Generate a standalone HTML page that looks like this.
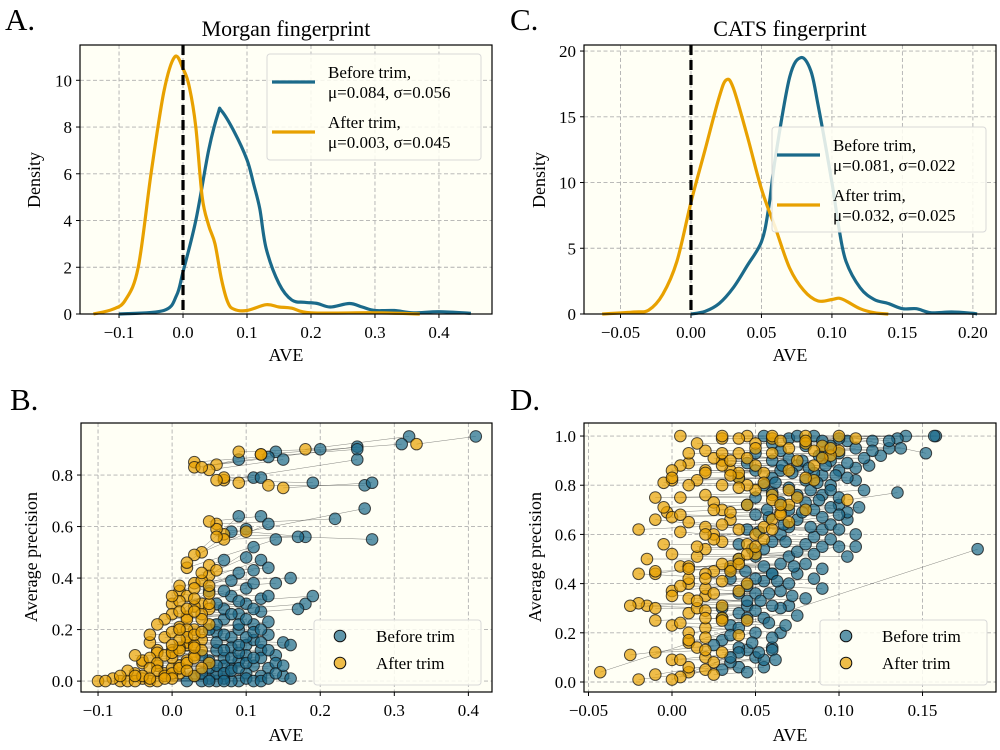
<!DOCTYPE html>
<html><head><meta charset="utf-8">
<style>
html,body{margin:0;padding:0;background:#fff;}
svg{display:block;font-family:"Liberation Serif","DejaVu Serif",serif;}
</style></head>
<body>
<svg id="fig" width="1000" height="750" viewBox="0 0 1000 750" xmlns="http://www.w3.org/2000/svg"></svg>
<script>
// ---- Panel A (Morgan) density data
const aBeforeX=[-0.1,-0.03,-0.01,0,0.02,0.04,0.055,0.06,0.08,0.1,0.11,0.12,0.13,0.15,0.17,0.19,0.21,0.23,0.26,0.28,0.3,0.33,0.36,0.4,0.45];
const aBeforeY=[0,0.15,0.8,1.8,4,7,8.6,8.7,7.8,6.6,5.6,4.5,2.8,1.3,0.6,0.5,0.45,0.3,0.45,0.3,0.15,0.15,0.05,0.1,0.03];
const aAfterX=[-0.14,-0.11,-0.09,-0.07,-0.05,-0.03,-0.013,0,0.01,0.02,0.03,0.04,0.05,0.06,0.07,0.08,0.1,0.13,0.15,0.17,0.2,0.3,0.37];
const aAfterY=[0,0.2,0.6,2,6,9.5,11,10.5,9.7,8,5,3.8,3,1.5,0.5,0.2,0.15,0.4,0.3,0.25,0.05,0.05,0];
const aXTicks=[-0.1,0,0.1,0.2,0.3,0.4];
const aXTickLabels=["−0.1","0.0","0.1","0.2","0.3","0.4"];
const aYTicks=[0,2,4,6,8,10];
// ---- Panel C (CATS) density data
const cBeforeX=[0,0.01,0.02,0.03,0.04,0.05,0.055,0.06,0.07,0.078,0.085,0.09,0.1,0.105,0.11,0.12,0.13,0.14,0.15,0.16,0.17,0.185,0.2,0.203];
const cBeforeY=[0,0.2,0.8,2,3.7,5.5,8,12,18,19.5,18.5,16,10,6.5,4,2,1.1,0.8,0.4,0.4,0.1,0.15,0.05,0];
const cAfterX=[-0.063,-0.04,-0.03,-0.02,-0.01,0,0.01,0.02,0.025,0.03,0.04,0.05,0.06,0.07,0.08,0.09,0.1,0.105,0.11,0.12,0.13,0.14];
const cAfterY=[0,0.15,0.3,1.5,4,8.5,12.5,16.5,17.8,17.2,13.5,9.5,6.5,3.5,1.8,1.0,1.1,1.2,1.0,0.4,0.1,0];
const cXTicks=[-0.05,0,0.05,0.1,0.15,0.2];
const cXTickLabels=["−0.05","0.00","0.05","0.10","0.15","0.20"];
const cYTicks=[0,5,10,15,20];
// ---- Panel B scatter: [beforeAVE, beforeAP, afterAVE, afterAP]
const bPairs=[
[0.41,0.95,0.33,0.92],[0.32,0.95,0.18,0.90],[0.31,0.92,0.12,0.88],[0.25,0.91,0.06,0.84],[0.25,0.90,0.03,0.85],
[0.25,0.86,0.07,0.78],[0.20,0.90,0.09,0.89],[0.14,0.89,0.12,0.88],[0.15,0.86,0.05,0.82],[0.13,0.87,0.03,0.83],
[0.09,0.86,0.04,0.83],[0.11,0.79,0.07,0.79],[0.12,0.79,0.09,0.77],[0.26,0.76,0.13,0.76],[0.27,0.77,0.15,0.75],
[0.19,0.77,0.06,0.78],[0.26,0.67,0.10,0.58],[0.22,0.63,0.06,0.61],[0.27,0.55,0.07,0.57],[0.18,0.56,0.06,0.59],
[0.17,0.56,0.07,0.55],[0.12,0.64,0.05,0.62],[0.13,0.61,0.04,0.50],[0.14,0.55,0.02,0.44],[0.09,0.64,0.03,0.49],
[0.10,0.59,0.06,0.56],[0.08,0.58,0.02,0.46],[0.11,0.52,0.05,0.41],[0.12,0.47,0.03,0.38],[0.16,0.40,0.04,0.39],
[0.11,0.43,0.01,0.35],[0.09,0.42,0.02,0.33],[0.10,0.36,0.00,0.30],[0.18,0.30,0.00,0.26],[0.19,0.33,0.04,0.30],
[0.17,0.28,0.02,0.25],[0.12,0.32,0.05,0.28],[0.08,0.33,0.01,0.31],[0.07,0.47,0.05,0.45],[0.10,0.48,0.06,0.43],
[0.13,0.44,0.04,0.42],[0.14,0.38,0.03,0.36],[0.08,0.39,0.01,0.37],[0.07,0.35,0.00,0.33],[0.10,0.30,0.03,0.29],
[0.12,0.27,0.02,0.24],[0.09,0.26,-0.01,0.24],[0.07,0.24,-0.02,0.22],[0.11,0.22,0.01,0.21],[0.13,0.23,0.03,0.20],
[0.15,0.15,0.04,0.16],[0.16,0.14,0.02,0.14],[0.14,0.10,0.00,0.12],[0.12,0.12,-0.02,0.12],[0.10,0.14,-0.03,0.15],
[0.08,0.17,-0.01,0.17],[0.09,0.20,0.00,0.19],[0.06,0.19,-0.03,0.18],[0.11,0.06,-0.04,0.07],[0.13,0.05,-0.02,0.06],
[0.15,0.02,0.01,0.03],[0.16,0.01,0.03,0.02],[0.12,0.02,-0.05,0.03],[0.10,0.03,-0.06,0.04],[0.08,0.05,-0.04,0.08],
[0.07,0.09,-0.05,0.10],[0.06,0.12,-0.02,0.11],[0.05,0.08,-0.03,0.09],[0.09,0.00,-0.10,0.00],[0.08,0.00,-0.07,0.00],
[0.07,0.01,-0.08,0.01],[0.06,0.00,-0.06,0.00],[0.05,0.01,-0.04,0.01],[0.10,0.01,-0.03,0.00],[0.11,0.00,-0.02,0.00],
[0.04,0.00,-0.05,0.00],[0.06,0.03,-0.01,0.03],[0.05,0.05,0.00,0.05],[0.07,0.06,0.01,0.06],[0.09,0.08,0.02,0.08],
[0.12,0.09,0.03,0.10],[0.14,0.07,0.05,0.07],[0.06,0.15,0.02,0.15],[0.08,0.13,0.01,0.13],[0.10,0.10,0.00,0.09],
[0.04,0.10,-0.02,0.07],[0.05,0.20,0.02,0.20],[0.07,0.28,0.04,0.26],[0.09,0.22,0.05,0.22],[0.06,0.30,0.03,0.32],
[0.05,0.35,0.01,0.27],[0.03,0.02,-0.07,0.02],[0.02,0.00,-0.09,0.00],[0.11,0.16,0.03,0.14],[0.13,0.18,0.04,0.12],
[0.07,0.12,-0.01,0.10],[0.08,0.09,0.00,0.11],[0.09,0.11,0.01,0.12],[0.10,0.17,0.02,0.17],[0.11,0.19,0.03,0.18],
[0.12,0.15,0.01,0.16],[0.06,0.06,-0.03,0.05],[0.07,0.03,-0.02,0.04],[0.08,0.04,-0.01,0.02],[0.09,0.05,0.00,0.03],
[0.10,0.07,0.01,0.05],[0.11,0.09,0.02,0.07],[0.13,0.12,0.03,0.09],[0.12,0.20,0.04,0.19],[0.10,0.24,0.04,0.24],
[0.08,0.26,0.02,0.28],[0.09,0.31,0.03,0.27],[0.11,0.28,0.05,0.30],[0.13,0.33,0.05,0.34],[0.11,0.38,0.05,0.37],
[0.04,0.03,-0.04,0.02],[0.05,0.00,-0.03,0.01],[0.07,0.00,-0.05,0.02],[0.12,0.00,0.00,0.01],[0.13,0.01,-0.01,0.01],
[0.14,0.03,0.02,0.04],[0.15,0.06,0.04,0.05],[0.09,0.14,0.03,0.13],[0.07,0.18,0.00,0.14],[0.06,0.22,0.01,0.20]
];
// ---- Panel D scatter: [beforeAVE, beforeAP, afterAVE, afterAP]
const dPairs=[
[0.183,0.54,-0.043,0.04],[0.158,1.00,0.045,1.00],[0.157,1.00,0.03,0.99],[0.152,0.93,0.11,0.99],[0.14,1.00,0.08,1.00],
[0.135,0.99,0.06,0.99],[0.137,0.95,0.09,0.96],[0.13,0.95,0.10,0.94],[0.135,0.77,0.105,0.74],[0.12,0.98,0.08,0.97],
[0.125,0.92,0.095,0.92],[0.118,0.88,0.07,0.86],[0.11,0.82,0.085,0.82],[0.115,0.78,0.06,0.76],[0.105,0.98,0.05,0.97],
[0.10,0.93,0.04,0.93],[0.095,0.90,0.03,0.90],[0.10,0.86,0.02,0.86],[0.09,0.84,0.00,0.82],[0.095,0.80,-0.005,0.81],
[0.09,0.76,-0.01,0.75],[0.10,0.72,-0.003,0.69],[0.105,0.66,-0.02,0.62],[0.11,0.60,0.01,0.65],[0.11,0.55,0.005,0.61],
[0.105,0.51,0.00,0.52],[0.10,0.55,-0.01,0.44],[0.09,0.46,0.005,0.47],[0.09,0.38,0.01,0.40],[0.085,0.42,0.00,0.37],
[0.08,0.34,-0.015,0.31],[0.07,0.31,-0.02,0.32],[0.065,0.30,-0.01,0.30],[0.075,0.27,0.01,0.28],[0.065,0.20,0.00,0.23],
[0.06,0.14,-0.01,0.12],[0.06,0.13,0.00,0.09],[0.055,0.06,0.01,0.04],[0.05,0.10,0.005,0.02],[0.045,0.13,0.00,0.01],
[0.04,0.06,-0.02,0.01],[0.035,0.08,-0.01,0.03],[0.04,0.14,0.02,0.05],[0.03,0.17,0.01,0.16],[0.035,0.23,0.02,0.22],
[0.04,0.28,0.03,0.26],[0.045,0.31,0.015,0.30],[0.05,0.36,0.02,0.35],[0.055,0.41,0.03,0.41],[0.06,0.44,0.025,0.45],
[0.065,0.48,0.035,0.47],[0.07,0.51,0.04,0.50],[0.075,0.53,0.05,0.52],[0.08,0.56,0.045,0.56],[0.085,0.59,0.05,0.60],
[0.09,0.62,0.055,0.63],[0.095,0.64,0.06,0.66],[0.09,0.67,0.065,0.69],[0.085,0.70,0.07,0.72],[0.08,0.73,0.06,0.74],
[0.075,0.76,0.05,0.78],[0.07,0.79,0.045,0.80],[0.08,0.82,0.04,0.83],[0.085,0.85,0.035,0.86],[0.075,0.88,0.03,0.88],
[0.07,0.91,0.025,0.91],[0.065,0.94,0.02,0.94],[0.06,0.97,0.015,0.97],[0.055,1.00,0.005,1.00],[0.07,0.99,0.04,0.99],
[0.08,0.96,0.05,0.95],[0.09,0.93,0.06,0.93],[0.095,0.96,0.07,0.95],[0.10,0.99,0.08,0.98],[0.11,0.95,0.085,0.94],
[0.06,0.90,0.01,0.89],[0.065,0.86,0.02,0.85],[0.06,0.83,0.015,0.82],[0.055,0.80,0.01,0.80],[0.06,0.77,0.02,0.76],
[0.065,0.73,0.025,0.73],[0.07,0.70,0.03,0.70],[0.075,0.66,0.035,0.66],[0.07,0.63,0.02,0.63],[0.065,0.60,0.025,0.60],
[0.06,0.57,0.03,0.57],[0.055,0.54,0.02,0.54],[0.05,0.51,0.015,0.51],[0.055,0.47,0.01,0.47],[0.06,0.44,0.02,0.44],
[0.05,0.42,0.01,0.42],[0.045,0.39,0.005,0.39],[0.04,0.36,0.00,0.35],[0.045,0.33,0.01,0.34],[0.05,0.29,0.02,0.29],
[0.045,0.26,0.03,0.25],[0.04,0.22,0.01,0.20],[0.035,0.19,0.02,0.18],[0.04,0.12,0.03,0.12],[0.035,0.10,0.02,0.10],
[0.03,0.05,0.01,0.06],[0.045,0.04,0.025,0.03],[0.05,0.20,0.04,0.19],[0.055,0.26,0.045,0.25],[0.06,0.31,0.03,0.31],
[0.065,0.37,0.04,0.37],[0.07,0.40,0.045,0.40],[0.075,0.44,0.035,0.45],[0.08,0.48,0.04,0.48],[0.085,0.52,0.045,0.52],
[0.09,0.55,0.05,0.55],[0.095,0.58,0.055,0.58],[0.10,0.62,0.06,0.62],[0.105,0.69,0.065,0.68],[0.1,0.75,0.075,0.75],
[0.095,0.78,0.07,0.78],[0.105,0.83,0.08,0.83],[0.11,0.87,0.085,0.88],[0.115,0.91,0.09,0.91],[0.12,0.94,0.095,0.95],
[0.13,0.98,0.10,1.00],[0.075,1.00,0.03,1.00],[0.085,1.00,0.06,1.00],[0.05,0.93,0.01,0.93],[0.045,0.89,0.005,0.88],
[0.05,0.86,0.00,0.86],[0.045,0.72,-0.005,0.71],[0.05,0.68,0.00,0.67],[0.045,0.62,-0.01,0.66],[0.04,0.56,-0.005,0.56],
[0.04,0.50,-0.015,0.50],[0.035,0.46,-0.01,0.45],[0.035,0.42,-0.02,0.44],[0.03,0.30,-0.025,0.31],[0.03,0.26,-0.01,0.25],
[0.025,0.15,-0.025,0.11],[0.055,0.09,0.005,0.09],[0.06,0.18,0.01,0.17],[0.068,0.23,0.005,0.24],[0.072,0.35,0.02,0.38],
[0.067,0.64,0.03,0.64],[0.072,0.85,0.04,0.85],[0.058,0.67,0.005,0.68],[0.05,0.75,0.005,0.75],[0.04,0.83,0.00,0.83],
[0.078,0.90,0.03,0.93],[0.082,0.87,0.035,0.90],[0.088,0.92,0.045,0.91],[0.092,0.88,0.05,0.88],[0.098,0.84,0.055,0.85],
[0.083,0.78,0.04,0.79],[0.088,0.74,0.045,0.72],[0.078,0.69,0.035,0.69],[0.083,0.63,0.04,0.62],[0.068,0.57,0.025,0.58],
[0.073,0.47,0.03,0.48],[0.063,0.41,0.02,0.42],[0.058,0.36,0.025,0.36],[0.053,0.33,0.015,0.33],[0.058,0.24,0.02,0.26],
[0.048,0.16,0.015,0.14],[0.052,0.12,0.02,0.13],[0.062,0.09,0.025,0.08],[0.044,0.45,0.01,0.46],[0.048,0.54,0.015,0.55],
[0.052,0.61,0.02,0.60],[0.057,0.70,0.025,0.70],[0.062,0.81,0.03,0.80],[0.066,0.88,0.035,0.84],[0.09,0.98,0.065,0.98],
[0.105,0.89,0.075,0.90],[0.112,0.71,0.08,0.70],[0.1,0.68,0.07,0.65],[0.095,0.71,0.065,0.72],[0.087,0.81,0.055,0.81]
];
const bXTicks=[-0.1,0,0.1,0.2,0.3,0.4];
const bXTickLabels=["−0.1","0.0","0.1","0.2","0.3","0.4"];
const bYTicks=[0,0.2,0.4,0.6,0.8];
const bYTickLabels=["0.0","0.2","0.4","0.6","0.8"];
const dXTicks=[-0.05,0,0.05,0.1,0.15];
const dXTickLabels=["−0.05","0.00","0.05","0.10","0.15"];
const dYTicks=[0,0.2,0.4,0.6,0.8,1.0];
const dYTickLabels=["0.0","0.2","0.4","0.6","0.8","1.0"];

const NS="http://www.w3.org/2000/svg";
const svg=document.getElementById('fig');
const BLUE="#1b6a8a", ORANGE="#e8a100", BG="#fffff5";
function mk(tag,attrs,parent){const e=document.createElementNS(NS,tag);for(const k in attrs)e.setAttribute(k,attrs[k]);(parent||svg).appendChild(e);return e;}
function txt(s,x,y,size,anchor,parent,rot){const t=mk('text',{x:x,y:y,'font-size':size,'text-anchor':anchor||'middle',fill:'#000'},parent);if(rot)t.setAttribute('transform','rotate(-90 '+x+' '+y+')');t.textContent=s;return t;}

function axes(name,L,R,T,B,xmin,xmax,ymin,ymax,xt,xtl,yt,ytl){
  const g=mk('g',{});
  
  
  const sx=v=>L+(v-xmin)/(xmax-xmin)*(R-L);
  const sy=v=>B-(v-ymin)/(ymax-ymin)*(B-T);
  mk('rect',{x:L,y:T,width:R-L,height:B-T,fill:BG},g);
  const grid=mk('g',{stroke:'#b0b0b0','stroke-width':0.9,'stroke-dasharray':'4,2.5'},g);
  
  
  xt.forEach((v,i)=>{const x=sx(v);mk('line',{x1:x,x2:x,y1:T,y2:B},grid);
    mk('line',{x1:x,x2:x,y1:B,y2:B+4,stroke:'#000','stroke-width':1},g);
    const t=txt(xtl[i],x,B+24,17,'middle',g);
    
    });
  yt.forEach((v,i)=>{const y=sy(v);mk('line',{x1:L,x2:R,y1:y,y2:y},grid);
    mk('line',{x1:L-4,x2:L,y1:y,y2:y,stroke:'#000','stroke-width':1},g);
    const t=txt(ytl[i],L-8,y+6,17,'end',g);
    
    });
  const plot=mk('g',{},g);
  return {g,sx,sy,plot,frame:()=>mk('rect',{x:L,y:T,width:R-L,height:B-T,fill:'none',stroke:'#000','stroke-width':1.2},g)};
}
function curve(ax,xs,ys,color,name){
  const P=xs.map((x,i)=>[ax.sx(x),ax.sy(ys[i])]);
  let d='M'+P[0][0].toFixed(1)+','+P[0][1].toFixed(1);
  for(let i=0;i<P.length-1;i++){
    const p0=P[Math.max(0,i-1)],p1=P[i],p2=P[i+1],p3=P[Math.min(P.length-1,i+2)];
    const c1=[p1[0]+(p2[0]-p0[0])/6,p1[1]+(p2[1]-p0[1])/6];
    const c2=[p2[0]-(p3[0]-p1[0])/6,p2[1]-(p3[1]-p1[1])/6];
    d+='C'+c1.map(v=>v.toFixed(1)).join(',')+' '+c2.map(v=>v.toFixed(1)).join(',')+' '+p2.map(v=>v.toFixed(1)).join(',');
  }
  const p=mk('path',{d:d,fill:'none',stroke:color,'stroke-width':3.2,'stroke-linejoin':'round'},ax.plot);
  
  
}
function zeroLine(ax,T,B){const l=mk('line',{x1:ax.sx(0),x2:ax.sx(0),y1:T,y2:B,stroke:'#000','stroke-width':3.2,'stroke-dasharray':'10,5'},ax.plot);
  
  }
function lineLegend(name,x,y,w,h,entries){
  const g=mk('g',{});
  
  
  mk('rect',{x:x,y:y,width:w,height:h,rx:3,fill:'#fffff5','fill-opacity':0.85,stroke:'#d8d8d8'},g);
  entries.forEach((e,i)=>{const yy=y+28+i*50;
    mk('line',{x1:x+5,x2:x+48,y1:yy,y2:yy,stroke:e[0],'stroke-width':3.2},g);
    txt(e[1],x+61,yy-4,17,'start',g);txt(e[2],x+61,yy+16,17,'start',g);});
}
function scatter(ax,pairs,pname){
  const lines=mk('g',{stroke:'#333','stroke-width':0.5,'stroke-opacity':0.6},ax.plot);
  pairs.forEach(p=>{mk('line',{x1:ax.sx(p[0]),y1:ax.sy(p[1]),x2:ax.sx(p[2]),y2:ax.sy(p[3])},lines);});
  const gb=mk('g',{},ax.plot);
  
  
  pairs.forEach(p=>{mk('circle',{cx:ax.sx(p[0]),cy:ax.sy(p[1]),r:5.8,fill:BLUE,'fill-opacity':0.7,stroke:'#111','stroke-opacity':0.75,'stroke-width':1},gb);});
  const ga=mk('g',{},ax.plot);
  
  
  pairs.forEach(p=>{mk('circle',{cx:ax.sx(p[2]),cy:ax.sy(p[3]),r:5.8,fill:ORANGE,'fill-opacity':0.7,stroke:'#111','stroke-opacity':0.75,'stroke-width':1},ga);});
}
function dotLegend(name,x,y){
  const g=mk('g',{});
  
  
  mk('rect',{x:x,y:y,width:167,height:65,rx:3,fill:'#fffff5','fill-opacity':0.85,stroke:'#d8d8d8'},g);
  mk('circle',{cx:x+26,cy:y+16,r:5.8,fill:BLUE,'fill-opacity':0.7,stroke:'#111','stroke-width':1},g);
  mk('circle',{cx:x+26,cy:y+43,r:5.8,fill:ORANGE,'fill-opacity':0.7,stroke:'#111','stroke-width':1},g);
  txt('Before trim',x+62,y+22,17,'start',g);
  txt('After trim',x+62,y+49,17,'start',g);
}

// Panel A
const A=axes('panel-a-axes',80,492,45,314,-0.161,0.4829,0,11.51,aXTicks,aXTickLabels,aYTicks,aYTicks.map(String));
curve(A,aBeforeX,aBeforeY,BLUE,'morgan-before-curve');
curve(A,aAfterX,aAfterY,ORANGE,'morgan-after-curve');
zeroLine(A,45,314);A.frame();
lineLegend('panel-a-legend',267,54,214,106,[[BLUE,'Before trim,','μ=0.084, σ=0.056'],[ORANGE,'After trim,','μ=0.003, σ=0.045']]);
// Panel C
const C=axes('panel-c-axes',584,996,45,314,-0.0759,0.2164,0,20.46,cXTicks,cXTickLabels,cYTicks,cYTicks.map(String));
curve(C,cBeforeX,cBeforeY,BLUE,'cats-before-curve');
curve(C,cAfterX,cAfterY,ORANGE,'cats-after-curve');
zeroLine(C,45,314);C.frame();
lineLegend('panel-c-legend',772,127,214,105,[[BLUE,'Before trim,','μ=0.081, σ=0.022'],[ORANGE,'After trim,','μ=0.032, σ=0.025']]);
// Panel B
const Bx=axes('panel-b-axes',81,492,423,692,-0.1230,0.4319,-0.0423,1.002,bXTicks,bXTickLabels,bYTicks,bYTickLabels);
scatter(Bx,bPairs,'morgan');Bx.frame();
dotLegend('panel-b-legend',314,620);
// Panel D
const D=axes('panel-d-axes',584,996,423,692,-0.0527,0.194,-0.0407,1.053,dXTicks,dXTickLabels,dYTicks,dYTickLabels);
scatter(D,dPairs,'cats');D.frame();
dotLegend('panel-d-legend',820,620);

// Titles and labels
[['A.',5,30],['C.',510,30],['B.',10,410],['D.',510,410]].forEach(p=>{const t=txt(p[0],p[1],p[2],31,'start');
  
  });
let t;
t=txt('Morgan fingerprint',286,36,22);


t=txt('CATS fingerprint',790,36,22);


[[286,361],[790,361],[286,741],[790,741]].forEach(p=>{const e=txt('AVE',p[0],p[1],18);
  
  });
[[40,180,'Density'],[545,180,'Density'],[37,557,'Average precision'],[541,557,'Average precision']].forEach(p=>{const e=txt(p[2],p[0],p[1],18,'middle',null,true);
  
  });
</script>
</body></html>
